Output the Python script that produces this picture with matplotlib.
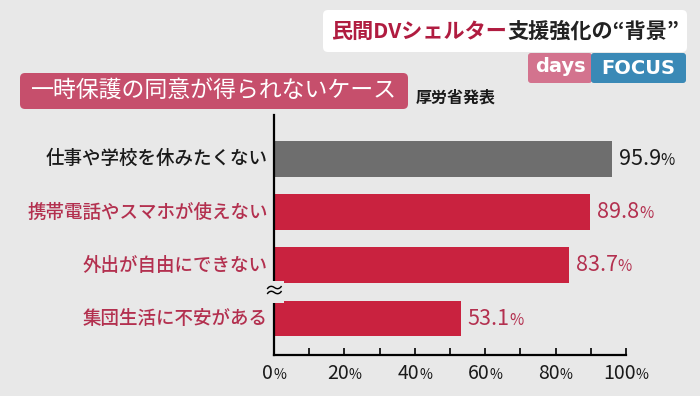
import numpy as np
import matplotlib
matplotlib.use("Agg")
import matplotlib.pyplot as plt
from matplotlib.patches import FancyBboxPatch
from matplotlib.transforms import Affine2D
from matplotlib.offsetbox import TextArea, HPacker, AnnotationBbox

# data
categories = ["仕事や学校を休みたくない", "携帯電話やスマホが使えない",
              "外出が自由にできない", "集団生活に不安がある"]
values = [95.9, 89.8, 83.7, 53.1]
tick_values = [0, 20, 40, 60, 80, 100]

title_red = "民間DVシェルター"
title_dark = "支援強化の“背景”"
subtitle = "一時保護の同意が得られないケース"
source = "厚労省発表"

W, H = 700, 396
BG = "#e8e8e8"
BAR_RED = "#c9223f"
BAR_GREY = "#6e6e6e"
TXT_RED = "#b3304f"
TXT_DARK = "#1a1a1a"
JP = ["Noto Sans CJK JP", "DejaVu Sans"]

plt.rcParams["font.family"] = JP

fig = plt.figure(figsize=(W / 100, H / 100), dpi=100, facecolor=BG)
# pixel coords measured from the top-left corner
pix = Affine2D().scale(1 / W, -1 / H).translate(0, 1) + fig.transFigure


def box(x0, y0, x1, y1, color, r=4):
    p = FancyBboxPatch((x0, y0), x1 - x0, y1 - y0,
                       boxstyle="round,pad=0,rounding_size=%d" % r,
                       transform=pix, facecolor=color, edgecolor="none")
    fig.patches.append(p)


def pct_label(ax, xy, num, color, size, xycoords, offset, align):
    parts = [TextArea(num, textprops=dict(color=color, fontsize=size, family=JP)),
             TextArea("%", textprops=dict(color=color, fontsize=size * 0.72, family=JP))]
    pack = HPacker(children=parts, align="baseline", pad=0, sep=0)
    ab = AnnotationBbox(pack, xy, xycoords=xycoords, xybox=offset,
                        boxcoords="offset points", box_alignment=align,
                        frameon=False, annotation_clip=False)
    ax.add_artist(ab)


# header
box(323, 10, 687, 52, "white", r=5)
head = HPacker(children=[
    TextArea(title_red, textprops=dict(color="#b01c40", fontsize=15.2, fontweight="bold", family=JP)),
    TextArea(title_dark, textprops=dict(color="#222222", fontsize=15.2, fontweight="bold", family=JP))],
    align="baseline", pad=0, sep=0)
fig.add_artist(AnnotationBbox(head, (505, 31), xycoords=pix, box_alignment=(0.5, 0.5),
                              frameon=False))

box(528, 53, 592, 83, "#d3738e", r=3)
box(591, 53, 686, 83, "#3a89b6", r=3)
fig.text(560, 67, "days", transform=pix, color="white", fontsize=14, fontweight="bold",
         family="DejaVu Sans", ha="center", va="center")
fig.text(638, 68, "FOCUS", transform=pix, color="white", fontsize=14, fontweight="bold",
         family="DejaVu Sans", ha="center", va="center")

box(20, 73, 408, 109, "#c64f6c", r=5)
fig.text(214, 90, subtitle, transform=pix, color="white", fontsize=16.5,
         ha="center", va="center")
fig.text(416, 98, source, transform=pix, color=TXT_DARK, fontsize=11.5,
         fontweight="bold", ha="left", va="center")

# bars
ax = fig.add_axes([274 / W, (H - 355) / H, 352 / W, 240 / H])
ax.set_facecolor(BG)
pos = np.arange(len(categories))[::-1]
colors = [BAR_GREY] + [BAR_RED] * (len(categories) - 1)
ax.barh(pos, values, height=0.67, color=colors)
ax.set_xlim(0, 100)
ax.set_ylim(-0.685, 3.82)

for s in ["top", "right"]:
    ax.spines[s].set_visible(False)
for s in ["left", "bottom"]:
    ax.spines[s].set_linewidth(1.6)
    ax.spines[s].set_color("black")

ax.set_xticks(tick_values)
ax.set_xticks(np.arange(10, 100, 20), minor=True)
ax.tick_params(axis="x", which="both", direction="in", length=5, width=1.2,
               labelbottom=False)
ax.set_yticks([])

lab_colors = [TXT_DARK] + [TXT_RED] * (len(categories) - 1)
for p, c, lc in zip(pos, categories, lab_colors):
    ax.text(-1.7, p, c, color=lc, fontsize=13.3, fontweight="medium",
            ha="right", va="center")

for p, v, lc in zip(pos, values, lab_colors):
    pct_label(ax, (v, p), "%.1f" % v, lc, 15.5, "data", (5, 0), (0, 0.5))

for t in tick_values:
    pct_label(ax, (t, 0), str(t), TXT_DARK, 14, ax.get_xaxis_transform(), (0, -5.5), (0.5, 1))

# break mark between the top three and the last bar
ax.text(0, 0.5, "≈", color="black", fontsize=15, ha="center", va="center",
        bbox=dict(facecolor=BG, edgecolor="none", pad=0))

fig.savefig("out.png", dpi=100, facecolor=BG)
